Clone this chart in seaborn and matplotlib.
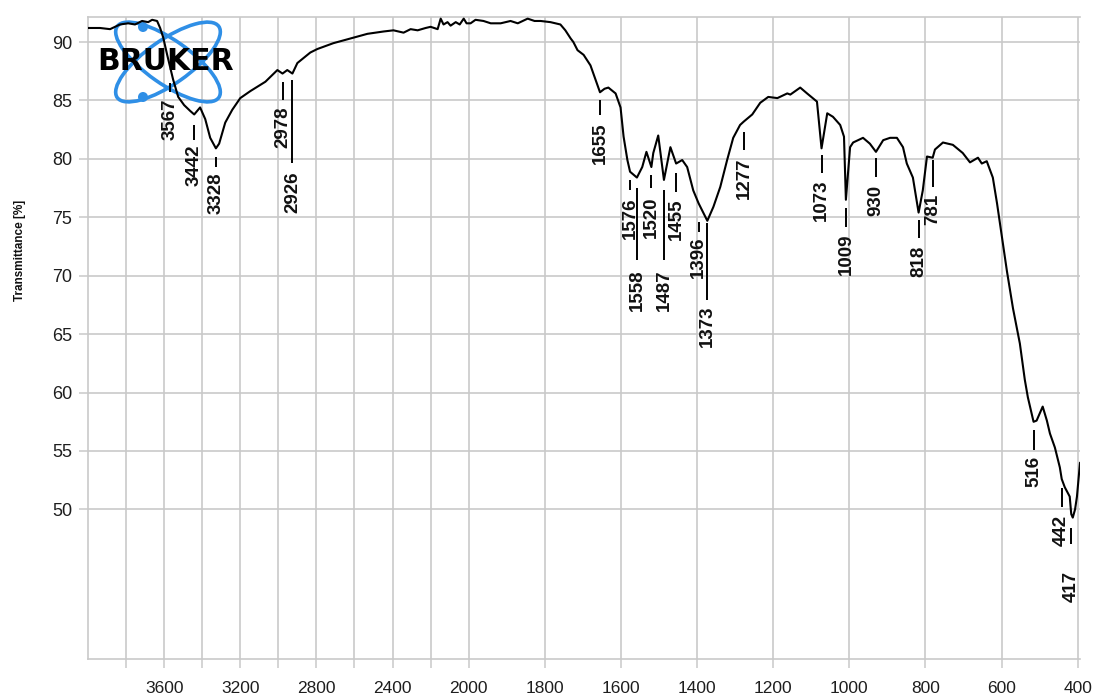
import numpy as np
import pandas as pd
import matplotlib
matplotlib.use("Agg")
import matplotlib.pyplot as plt
from matplotlib.patches import Ellipse, Circle
from matplotlib.transforms import Affine2D
import seaborn as sns

# ---------------- data ----------------
wavenumber = [4000, 3937, 3884, 3858, 3832, 3789, 3753, 3716, 3684, 3663, 3637, 3621,
              3605, 3584, 3568, 3553, 3526, 3495, 3463, 3442, 3411, 3384, 3358, 3328,
              3311, 3279, 3242, 3200, 3147, 3068, 3005, 2978, 2953, 2926, 2900, 2832,
              2795, 2711, 2621, 2532, 2447, 2395, 2342, 2305, 2268, 2226, 2200, 2163,
              2147, 2132, 2111, 2095, 2068, 2047, 2026, 2011, 1995, 1982, 1961, 1942,
              1916, 1890, 1871, 1845, 1827, 1811, 1785, 1759, 1746, 1732, 1725, 1714,
              1698, 1680, 1667, 1655, 1643, 1633, 1614, 1601, 1593, 1583, 1576, 1558,
              1544, 1533, 1520, 1515, 1502, 1487, 1470, 1455, 1439, 1426, 1410, 1396,
              1373, 1357, 1339, 1321, 1305, 1287, 1277, 1255, 1234, 1213, 1189, 1163,
              1155, 1129, 1111, 1085, 1073, 1058, 1043, 1024, 1014, 1009, 998, 990,
              964, 946, 930, 911, 893, 875, 859, 849, 833, 818, 807, 796, 781, 775,
              754, 728, 702, 683, 662, 652, 639, 623, 612, 599, 586, 570, 552, 539,
              531, 516, 508, 492, 481, 473, 460, 447, 442, 434, 421, 417, 413, 407,
              402, 394]
transmittance = [91.2, 91.2, 91.1, 91.3, 91.5, 91.6, 91.5, 91.8, 91.7, 91.9, 91.8, 91.2,
                 90.4, 88.9, 87.8, 86.8, 85.3, 84.6, 84.1, 83.8, 84.4, 83.4, 81.8, 80.9,
                 81.3, 83.1, 84.2, 85.2, 85.8, 86.6, 87.6, 87.3, 87.6, 87.3, 88.2, 89.1,
                 89.4, 89.9, 90.3, 90.7, 90.9, 91.0, 90.8, 91.1, 91.0, 91.2, 91.3, 91.1,
                 92.0, 91.5, 91.7, 91.4, 91.7, 91.5, 92.0, 91.6, 91.6, 91.9, 91.8, 91.6,
                 91.6, 91.8, 91.6, 92.0, 91.8, 91.8, 91.7, 91.5, 91.0, 90.3, 90.0, 89.3,
                 88.9, 88.0, 86.8, 85.7, 86.0, 86.1, 85.6, 84.4, 81.9, 79.9, 78.9, 78.4,
                 79.3, 80.6, 79.3, 80.5, 82.0, 78.2, 81.0, 79.6, 79.9, 79.3, 77.3, 76.2,
                 74.7, 75.9, 77.6, 79.9, 81.8, 82.9, 83.2, 83.8, 84.8, 85.3, 85.2, 85.6,
                 85.5, 86.1, 85.6, 84.9, 80.9, 83.9, 83.6, 82.9, 81.9, 76.5, 81.0, 81.4,
                 81.8, 81.3, 80.6, 81.6, 81.8, 81.8, 81.0, 79.6, 78.4, 75.4, 77.3, 80.2,
                 80.1, 80.8, 81.4, 81.2, 80.5, 79.7, 80.1, 79.6, 79.8, 78.4, 76.2, 73.3,
                 70.4, 67.2, 64.2, 61.1, 59.6, 57.5, 57.6, 58.8, 57.6, 56.5, 55.3, 53.6,
                 52.6, 51.9, 51.1, 49.6, 49.3, 50.0, 51.1, 54.0]

peak_labels = ["3567", "3442", "3328", "2978", "2926", "1655", "1576", "1558", "1520",
               "1487", "1455", "1396", "1373", "1277", "1073", "1009", "930", "818",
               "781", "516", "442", "417"]
peak_wn = [3567, 3442, 3328, 2978, 2926, 1655, 1576, 1558, 1520, 1487, 1455, 1396,
           1373, 1277, 1073, 1009, 930, 818, 781, 516, 442, 417]
peak_line_top = [86.5, 82.89, 80.15, 86.58, 86.75, 85.03, 78.18, 77.50, 78.61, 77.33,
                 78.78, 74.59, 74.50, 82.29, 80.33, 75.79, 80.07, 74.76, 79.90, 56.78,
                 51.81, 48.39]
peak_line_bottom = [85.7, 81.61, 79.30, 85.03, 79.64, 83.75, 77.33, 71.33, 77.50, 71.33,
                    77.16, 73.73, 67.91, 80.75, 78.78, 74.16, 78.44, 73.22, 77.59, 55.07,
                    50.19, 47.02]
peak_text_top = [85.2, 81.25, 78.87, 84.45, 78.95, 83.10, 76.70, 70.55, 76.75, 70.55,
                 76.60, 73.35, 67.45, 80.10, 78.20, 73.60, 77.80, 72.55, 77.05, 54.55,
                 49.55, 44.70]

xtick_major = [3600, 3200, 2800, 2400, 2000, 1800, 1600, 1400, 1200, 1000, 800, 600, 400]
xtick_minor = [3800, 3400, 3000, 2600, 2200]
ytick_values = [50, 55, 60, 65, 70, 75, 80, 85, 90]
y_label = "Transmittance [%]"
logo_text = "BRUKER"

# ---------------- style ----------------
sns.set_theme(style="white")
plt.rcParams['font.family'] = ['Liberation Sans', 'DejaVu Sans']

GRID = '#c9c9c9'
W, H = 1099, 700
fig = plt.figure(figsize=(W / 100, H / 100), dpi=100)
fig.patch.set_facecolor('white')
ax = fig.add_axes([88 / W, 1 - 659 / H, 992 / W, 642 / H])
ax.set_facecolor('white')


def fwd(x):
    x = np.asarray(x, dtype=float)
    return np.where(x > 2000, 2000 + (x - 2000) / 2.0, x)


def inv(u):
    u = np.asarray(u, dtype=float)
    return np.where(u > 2000, 2000 + (u - 2000) * 2.0, u)


ax.set_xscale('function', functions=(fwd, inv))

df = pd.DataFrame({'wn': wavenumber, 'T': transmittance})
sns.lineplot(data=df, x='wn', y='T', ax=ax, color='black', linewidth=1.5,
             estimator=None, sort=False, zorder=3)

ax.set_xlim(4000, 394)
ax.set_ylim(37.2, 92.14)

ax.set_xticks(xtick_major, labels=[str(v) for v in xtick_major])
ax.set_xticks(xtick_minor, minor=True)
ax.set_yticks(ytick_values, labels=[str(v) for v in ytick_values])

ax.grid(True, which='both', axis='x', color=GRID, linewidth=1.2)
ax.grid(True, which='major', axis='y', color=GRID, linewidth=1.2)
ax.set_axisbelow(True)

ax.tick_params(axis='x', which='both', bottom=True, direction='out', length=6.5,
               width=1.1, color=GRID, pad=9, labelsize=12.5, labelcolor='#1e1e1e')
ax.tick_params(axis='y', which='major', left=True, direction='out', length=6.5,
               width=1.1, color=GRID, pad=5, labelsize=13, labelcolor='#1e1e1e')

for side in ['left', 'bottom', 'top']:
    ax.spines[side].set_visible(True)
    ax.spines[side].set_color(GRID)
    ax.spines[side].set_linewidth(1.2)
ax.spines['right'].set_visible(False)

ax.set_xlabel('')
ax.set_ylabel(y_label, fontsize=8.5, fontweight='bold', color='#111111')
ax.yaxis.set_label_coords(-0.062, 0.637)

# peak markers and labels
ax.vlines(peak_wn, peak_line_bottom, peak_line_top, color='black', linewidth=1.4,
          zorder=4)
for lab, wn, ty in zip(peak_labels, peak_wn, peak_text_top):
    ax.text(wn, ty, lab, rotation=90, ha='center', va='top', fontsize=13.5,
            fontweight='bold', color='#111111', zorder=4)

# Bruker logo (pixel coordinates of the image, y downwards)
px = Affine2D().scale(1 / W, -1 / H).translate(0, 1) + fig.transFigure
logo_blue = '#2f8fe6'
for ang in (35, -35):
    ax.add_patch(Ellipse((168, 62), width=124, height=44, angle=ang, transform=px,
                         fill=False, edgecolor=logo_blue, linewidth=2.6, zorder=1,
                         clip_on=False))
for cy in (27, 97):
    ax.add_patch(Circle((143, cy), radius=5, transform=px, facecolor=logo_blue,
                        edgecolor='none', zorder=1, clip_on=False))
ax.text(166, 62, logo_text, transform=px, ha='center', va='center', fontsize=21.5,
        fontweight='bold', family='DejaVu Sans', color='black', zorder=2)

fig.savefig('out.png', dpi=100, facecolor='white')
